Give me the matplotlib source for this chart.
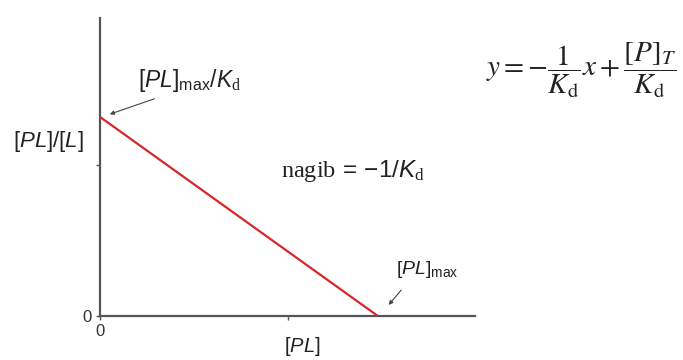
import matplotlib
matplotlib.use("Agg")
import matplotlib.pyplot as plt

# Data (normalised axis units)
pl_values = [0.0, 0.741]        # [PL]
ratio_values = [0.668, 0.0]     # [PL]/[L]
x_ticks = [0.0, 0.5]
x_tick_labels = ["0", ""]
y_ticks = [0.0, 0.507]
y_tick_labels = ["0", ""]

plt.rcParams["font.family"] = ["Liberation Sans", "DejaVu Sans"]
plt.rcParams["mathtext.fontset"] = "custom"
plt.rcParams["mathtext.rm"] = "Liberation Sans"
plt.rcParams["mathtext.it"] = "Liberation Sans:italic"
plt.rcParams["mathtext.bf"] = "Liberation Serif"
plt.rcParams["mathtext.cal"] = "Liberation Serif:italic"

W, H = 683, 360
fig = plt.figure(figsize=(W / 100, H / 100), dpi=100)
ax = fig.add_axes([100 / W, 44 / H, 375 / W, 298 / H])

ax.plot(pl_values, ratio_values, color="#d8262b", lw=1.6, solid_capstyle="butt", zorder=3)
ax.set_xlim(0, 1)
ax.set_ylim(0, 1)
for s in ("top", "right"):
    ax.spines[s].set_visible(False)
for s in ("left", "bottom"):
    ax.spines[s].set_color("#555555")
    ax.spines[s].set_linewidth(1.6)
ax.set_xticks(x_ticks)
ax.set_xticklabels(x_tick_labels)
ax.set_yticks(y_ticks)
ax.set_yticklabels(y_tick_labels)
ax.tick_params(direction="out", length=3, width=1, colors="#555555",
               labelcolor="#333333", labelsize=12, pad=3)

# axis labels
fig.text(302 / W, 1 - 346 / H, r"$[\mathit{PL}]$", fontsize=14.5, ha="center", va="center", color="#222222")
fig.text(48 / W, 1 - 142 / H, r"$[\mathit{PL}]/[\mathit{L}]$", fontsize=16, ha="center", va="center", color="#222222")

# annotations
fig.text(190 / W, 1 - 81 / H, r"$[\mathit{PL}]_{\mathrm{max}}/\mathit{K}_{\mathbf{d}}$",
         fontsize=16.5, ha="center", va="center", color="#222222")
ax.annotate("", xy=(0.019, 0.674), xytext=(0.152, 0.732),
            arrowprops=dict(arrowstyle="-|>", color="#444444", lw=0.8, mutation_scale=6))
fig.text(427 / W, 1 - 270 / H, r"$[\mathit{PL}]_{\mathrm{max}}$",
         fontsize=14, ha="center", va="center", color="#222222")
ax.annotate("", xy=(0.765, 0.030), xytext=(0.808, 0.094),
            arrowprops=dict(arrowstyle="-|>", color="#444444", lw=0.8, mutation_scale=6))

fig.text(353 / W, 1 - 171 / H, r"$\mathbf{nagib}\,\mathrm{=}\,\mathrm{-1/}\mathit{K}_{\mathbf{d}}$",
         fontsize=17.5, ha="center", va="center", color="#222222")

fig.text(581 / W, 1 - 70 / H, r"$y=-\dfrac{1}{K_\mathrm{d}}x+\dfrac{[P]_T}{K_\mathrm{d}}$",
         fontsize=21, ha="center", va="center", color="#222222", math_fontfamily="stix")

fig.savefig("out.png", dpi=100)
